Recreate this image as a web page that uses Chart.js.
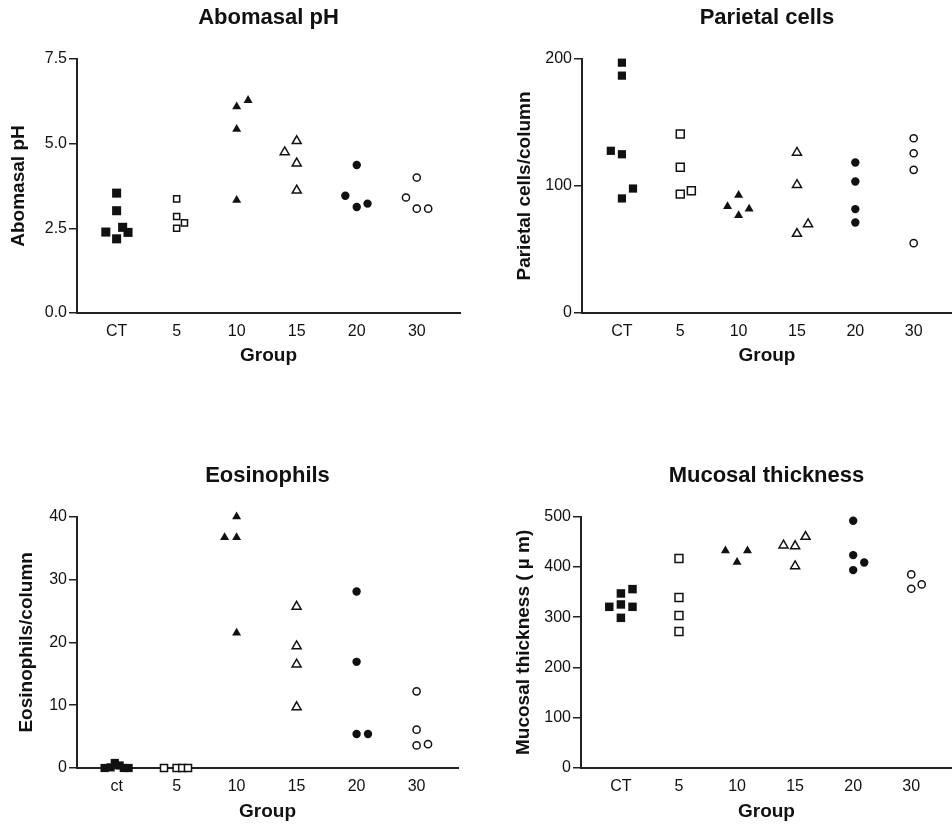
<!DOCTYPE html>
<html><head><meta charset="utf-8">
<script src="https://cdn.jsdelivr.net/npm/chart.js@4"></script>
<style>
html,body{margin:0;padding:0;background:#fff;overflow:hidden}
#wrap{position:relative;width:952px;height:826px;overflow:hidden;background:#fff}
canvas{position:absolute}
</style></head><body>
<div id="wrap">
<canvas id="c1" width="476" height="372" style="left:0;top:0"></canvas>
<canvas id="c2" width="483" height="372" style="left:476px;top:0"></canvas>
<canvas id="c3" width="476" height="371" style="left:0;top:455px"></canvas>
<canvas id="c4" width="483" height="371" style="left:476px;top:455px"></canvas>
</div>
<script>
// ---- categories / tick labels ----
const groupLabels = ['CT', '5', '10', '15', '20', '30'];
const eosGroupLabels = ['ct', '5', '10', '15', '20', '30'];

// ---- Abomasal pH (per group: CT, 5, 10, 15, 20, 30) ----
const phValues = [
  [2.39, 3.54, 3.02, 2.53, 2.38, 2.19],
  [3.37, 2.85, 2.66, 2.50],
  [6.09, 6.28, 5.43, 3.33],
  [4.75, 5.08, 4.42, 3.62],
  [3.46, 4.37, 3.13, 3.23],
  [3.41, 4.00, 3.08, 3.08]
];
const phJitter = [
  [-0.18, 0, 0, 0.10, 0.19, 0],
  [0, 0, 0.13, 0],
  [0, 0.19, 0, 0],
  [-0.20, 0, 0, 0],
  [-0.19, 0, 0, 0.18],
  [-0.18, 0, 0, 0.19]
];

// ---- Parietal cells/column ----
const parietalValues = [
  [197.1, 186.9, 127.7, 125.0, 90.2, 98.0],
  [141.0, 114.8, 93.6, 96.2],
  [83.9, 92.8, 76.8, 82.0],
  [126.3, 100.9, 62.4, 70.0],
  [118.5, 103.5, 81.8, 71.3],
  [137.6, 125.8, 112.7, 55.0]
];
const parietalJitter = [
  [0, 0, -0.19, 0, 0, 0.19],
  [0, 0, 0, 0.19],
  [-0.19, 0, 0, 0.18],
  [0, 0, 0, 0.19],
  [0, 0, 0, 0],
  [0, 0, 0, 0]
];

// ---- Eosinophils/column ----
const eosValues = [
  [0, 0.1, 0.8, 0.4, 0, 0],
  [0, 0, 0, 0],
  [36.7, 36.7, 40.0, 21.5],
  [25.7, 19.4, 16.5, 9.7],
  [28.1, 16.9, 5.4, 5.4],
  [12.2, 6.1, 3.6, 3.8]
];
const eosJitter = [
  [-0.20, -0.10, -0.03, 0.05, 0.12, 0.20],
  [-0.21, 0, 0.094, 0.19],
  [-0.20, 0, 0, 0],
  [0, 0, 0, 0],
  [0, 0, 0, 0.19],
  [0, 0, 0, 0.19]
];

// ---- Mucosal thickness (µm) ----
const mucosalValues = [
  [320.7, 347.3, 355.9, 325.4, 320.7, 298.8],
  [417.0, 339.3, 303.5, 271.6],
  [432.3, 409.7, 432.3],
  [442.9, 441.6, 460.2, 401.7],
  [492.0, 423.6, 393.8, 409.0],
  [385.1, 356.6, 365.2]
];
const mucosalJitter = [
  [-0.20, 0, 0.20, 0, 0.20, 0],
  [0, 0, 0, 0],
  [-0.20, 0, 0.18],
  [-0.20, 0, 0.18, 0],
  [0, 0, 0, 0.19],
  [0, 0, 0.18]
];

// ---- styling ----
const FONT = "'Liberation Sans', Arial, Helvetica, sans-serif";
Chart.defaults.font.family = FONT;
Chart.defaults.color = '#111';
const INK = '#111';
const AXIS = '#222';
const markerStyles = [
  {style: 'rect', filled: true},
  {style: 'rect', filled: false},
  {style: 'triangle', filled: true},
  {style: 'triangle', filled: false},
  {style: 'circle', filled: true},
  {style: 'circle', filled: false}
];

function makeChart(id, c) {
  const datasets = c.values.map((vals, g) => {
    const m = markerStyles[g];
    return {
      label: c.labels[g],
      data: vals.map((v, i) => ({x: g + c.jitter[g][i], y: v})),
      pointStyle: m.style,
      pointRadius: c.sizes[g],
      pointHoverRadius: c.sizes[g],
      backgroundColor: m.filled ? INK : '#fff',
      borderColor: INK,
      borderWidth: m.filled ? 0 : 1.5,
      showLine: false,
      clip: false
    };
  });
  return new Chart(document.getElementById(id), {
    type: 'scatter',
    data: {datasets},
    options: {
      responsive: false,
      animation: false,
      devicePixelRatio: 1,
      layout: {padding: {left: 0, right: c.padRight, top: 0, bottom: 0}},
      plugins: {
        legend: {display: false},
        tooltip: {enabled: false},
        title: {
          display: true, text: c.title, fullSize: false,
          color: INK,
          font: {size: 22, weight: 'bold', family: FONT},
          padding: {top: c.titlePadTop, bottom: c.titlePadBottom}
        }
      },
      scales: {
        x: {
          type: 'linear', min: c.xMin, max: c.xMax,
          afterBuildTicks: (s) => { s.ticks = c.labels.map((_, i) => ({value: i})); },
          afterFit: (s) => { s.height = c.xHeight; },
          grid: {display: false, drawTicks: false, tickLength: 0},
          border: {display: true, color: AXIS, width: 2},
          ticks: {
            autoSkip: false, maxRotation: 0, padding: c.xTickPad,
            color: INK, font: {size: 16, family: FONT},
            callback: (v) => c.labels[v]
          },
          title: {
            display: true, text: 'Group', color: INK,
            font: {size: 19, weight: 'bold', family: FONT},
            padding: {top: 0, bottom: c.xTitlePad}
          }
        },
        y: {
          min: c.yMin, max: c.yMax,
          afterFit: (s) => { s.width = c.yWidth; },
          grid: {display: true, drawOnChartArea: false, drawTicks: true, tickLength: 8, color: AXIS, lineWidth: 1.5},
          border: {display: true, color: AXIS, width: 2},
          ticks: {
            stepSize: c.step, padding: 2, color: INK,
            font: {size: 16, family: FONT},
            callback: c.fmt
          },
          title: {
            display: true, text: c.yTitle, color: INK,
            font: {size: 19, weight: 'bold', family: FONT},
            padding: {top: c.yTitlePad, bottom: 0}
          }
        }
      }
    }
  });
}

makeChart('c1', {
  values: phValues, jitter: phJitter, labels: groupLabels,
  title: 'Abomasal pH', yTitle: 'Abomasal pH',
  yMin: 0, yMax: 7.5, step: 2.5, fmt: (v) => v.toFixed(1),
  xMin: -0.66, xMax: 5.72, padRight: 16,
  yWidth: 77, yTitlePad: 7.6,
  titlePadTop: 4.3, titlePadBottom: 28.3,
  xHeight: 59, xTickPad: 9.4, xTitlePad: 4.6,
  sizes: [6.4, 4.3, 5.2, 5.2, 4.2, 3.6]
});

makeChart('c2', {
  values: parietalValues, jitter: parietalJitter, labels: groupLabels,
  title: 'Parietal cells', yTitle: 'Parietal cells/column',
  yMin: 0, yMax: 200, step: 100, fmt: (v) => String(v),
  xMin: -0.684, xMax: 5.655, padRight: 0,
  yWidth: 106, yTitlePad: 37.6,
  titlePadTop: 4.3, titlePadBottom: 28.3,
  xHeight: 59, xTickPad: 9.4, xTitlePad: 4.6,
  sizes: [5.8, 5.6, 5.2, 5.2, 4.2, 3.6]
});

makeChart('c3', {
  values: eosValues, jitter: eosJitter, labels: eosGroupLabels,
  title: 'Eosinophils', yTitle: 'Eosinophils/column',
  yMin: 0, yMax: 40, step: 10, fmt: (v) => String(v),
  xMin: -0.66, xMax: 5.69, padRight: 18,
  yWidth: 77, yTitlePad: 15.6,
  titlePadTop: 7.8, titlePadBottom: 27.5,
  xHeight: 58, xTickPad: 9.4, xTitlePad: 2.6,
  sizes: [5.8, 5.0, 5.2, 5.2, 4.2, 3.6]
});

makeChart('c4', {
  values: mucosalValues, jitter: mucosalJitter, labels: groupLabels,
  title: 'Mucosal thickness', yTitle: 'Mucosal thickness ( \u00b5 m)',
  yMin: 0, yMax: 500, step: 100, fmt: (v) => String(v),
  xMin: -0.687, xMax: 5.70, padRight: 0,
  yWidth: 105, yTitlePad: 36.6,
  titlePadTop: 7.8, titlePadBottom: 27.5,
  xHeight: 58, xTickPad: 9.4, xTitlePad: 2.6,
  sizes: [6.0, 5.6, 5.2, 5.2, 4.2, 3.6]
});
</script>
</body></html>
